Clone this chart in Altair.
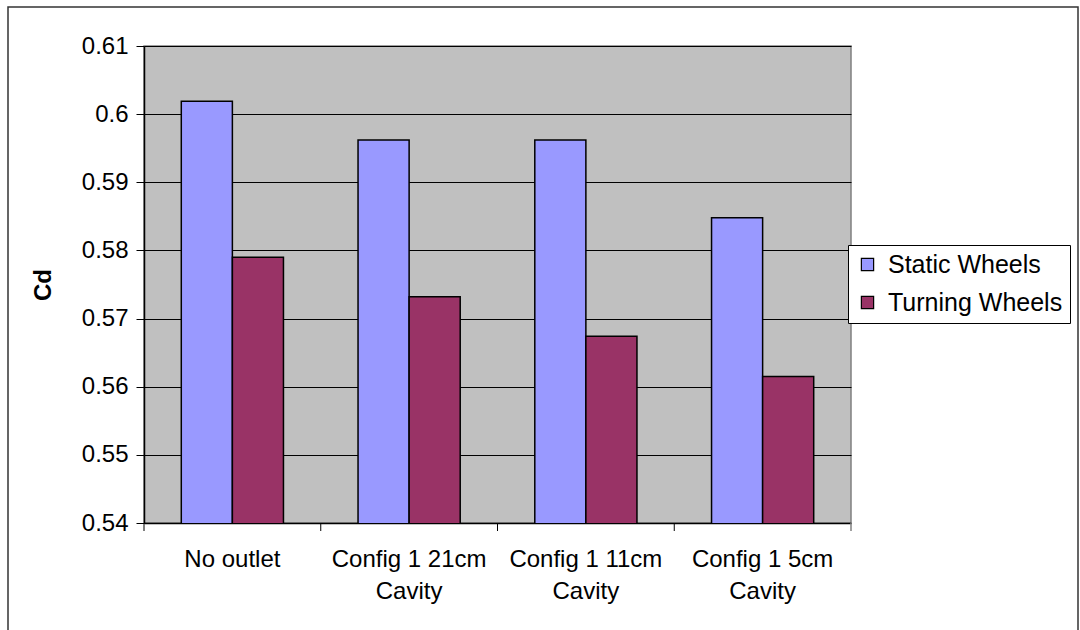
import altair as alt
import pandas as pd

# Drag coefficient per outlet configuration, static vs turning wheels
categories = ["No outlet", "Config 1 21cm|Cavity", "Config 1 11cm|Cavity", "Config 1 5cm|Cavity"]
series = ["Static Wheels", "Turning Wheels"]
static_cd = [0.6019, 0.5962, 0.5962, 0.5848]
turning_cd = [0.5790, 0.5732, 0.5674, 0.5615]
y_ticks = [0.54, 0.55, 0.56, 0.57, 0.58, 0.59, 0.60, 0.61]
colors = ["#9999FF", "#993366"]

rows = []
for c, s, t in zip(categories, static_cd, turning_cd):
    rows.append({"config": c, "series": series[0], "cd": s})
    rows.append({"config": c, "series": series[1], "cd": t})
df = pd.DataFrame(rows)

W, H = 707, 477
FONT = "Liberation Sans"
FS = 24

x_enc = alt.X(
    "config:N",
    sort=categories,
    scale=alt.Scale(paddingInner=0, paddingOuter=0),
    axis=alt.Axis(
        title=None,
        labelAngle=0,
        labelExpr="split(datum.label, '|')",
        labelLineHeight=32,
        labelPadding=24,
        labelFontSize=FS,
        labelFont=FONT,
        labelColor="black",
        ticks=False,
        domainColor="black",
        domainWidth=1.5,
        grid=False,
        labelBaseline="top",
    ),
)

bars = alt.Chart(df).mark_bar(stroke="black", strokeWidth=1.5, clip=True).encode(
    x=x_enc,
    xOffset=alt.XOffset("series:N", sort=series,
                        scale=alt.Scale(paddingInner=0, paddingOuter=0.73)),
    y=alt.Y(
        "cd:Q",
        scale=alt.Scale(domain=[0.54, 0.61], nice=False, zero=False),
        axis=alt.Axis(
            title="Cd",
            titleFont=FONT,
            titleFontSize=FS,
            titleFontWeight="bold",
            titleColor="black",
            titlePadding=26,
            values=y_ticks,
            format=".2~f",
            labelFont=FONT,
            labelFontSize=FS,
            labelColor="black",
            labelPadding=8,
            tickSize=8,
            tickColor="black",
            domainColor="black",
            domainWidth=1.5,
            gridColor="black",
            gridWidth=1,
        ),
    ),
    color=alt.Color(
        "series:N",
        sort=series,
        scale=alt.Scale(domain=series, range=colors),
        legend=alt.Legend(
            title=None,
            orient="none",
            legendX=704,
            legendY=199,
            symbolType="square",
            symbolSize=150,
            symbolStrokeColor="black",
            symbolStrokeWidth=1.2,
            labelFont=FONT,
            labelFontSize=25,
            labelColor="black",
            labelLimit=0,
            rowPadding=12,
            strokeColor="black",
            fillColor="white",
            padding=7,
            labelOffset=8,
        ),
    ),
)

# category boundary ticks below the x axis
tick_df = pd.DataFrame({"config": categories})
ticks = alt.Chart(tick_df).mark_rule(color="black", strokeWidth=1).encode(
    x=alt.X("config:N", sort=categories, bandPosition=0),
    y=alt.value(H),
    y2=alt.value(H + 8),
)
end_tick = alt.Chart(alt.Data(values=[{}])).mark_rule(color="#808080", strokeWidth=1.5).encode(
    x=alt.value(W), y=alt.value(H), y2=alt.value(H + 8)
)

# outer frame of the chart
frame = alt.Chart(alt.Data(values=[{}])).mark_rect(
    fill=None, fillOpacity=0, stroke="#333333", strokeWidth=1.5
).encode(
    x=alt.value(-136), x2=alt.value(934), y=alt.value(-39), y2=alt.value(600)
)

chart = alt.layer(bars, ticks, end_tick, frame).properties(
    width=W,
    height=H,
    autosize=alt.AutoSizeParams(type="none"),
    padding={"left": 144, "top": 46, "right": 1080 - 144 - W, "bottom": 630 - 46 - H},
    background="white",
).configure_view(
    fill="#C0C0C0", stroke="#808080", strokeWidth=1.5
)

chart.save("out.html", embed_options={"renderer": "svg", "actions": False})
